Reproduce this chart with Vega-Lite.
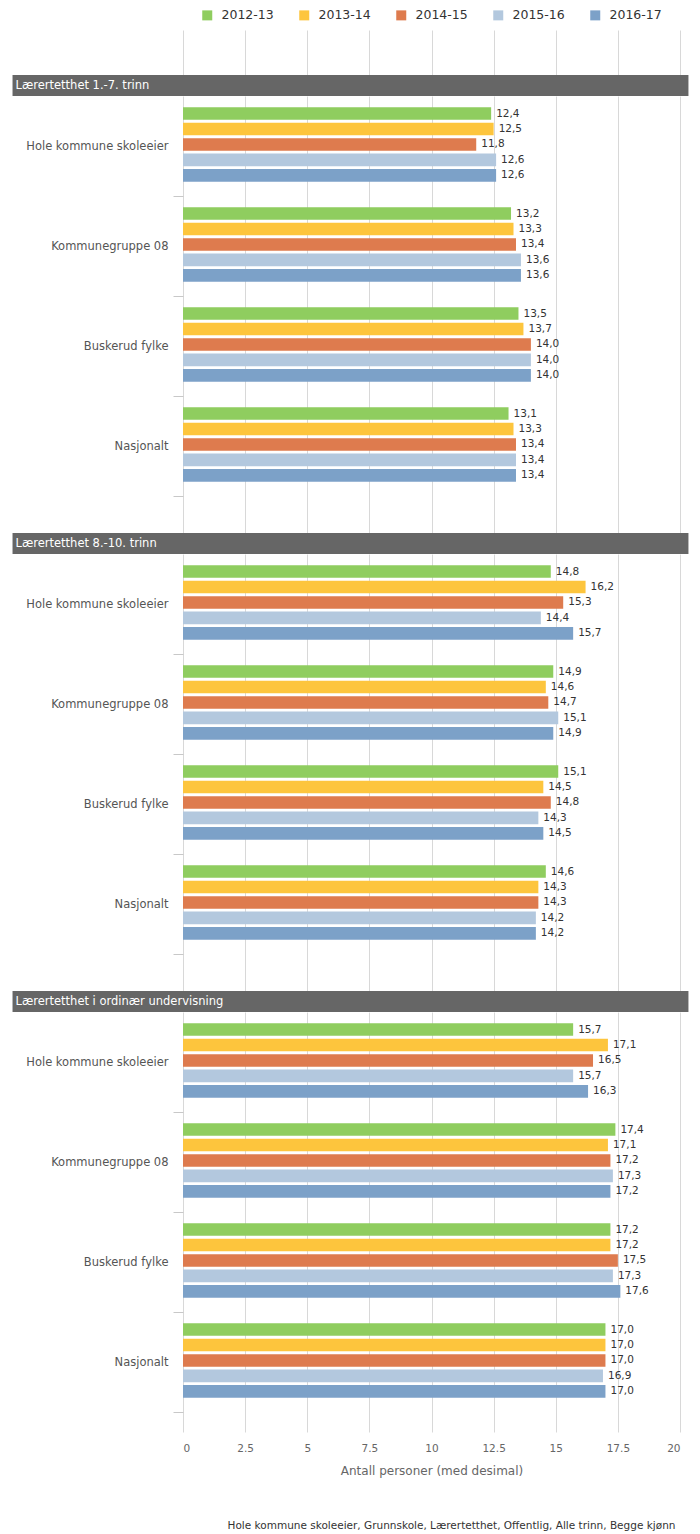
{
  "$schema": "https://vega.github.io/schema/vega-lite/v6.json",
  "padding": {"left": 12, "right": 12, "top": 9, "bottom": 2},
  "background": "white",
  "config": {
    "locale": {"number": {"decimal": ",", "thousands": " ", "grouping": [3], "currency": ["", " kr"]}},
    "font": "DejaVu Sans",
    "view": {"stroke": null},
    "legend": {"layout": {"top": {"anchor": "middle"}}}
  },
  "title": {"text": "Hole kommune skoleeier, Grunnskole, Lærertetthet, Offentlig, Alle trinn, Begge kjønn", "orient": "bottom", "anchor": "end", "fontSize": 10.5, "fontWeight": "normal", "color": "#333", "offset": 44, "dx": -13},
  "spacing": 0,
  "datasets": {
    "bars": [
      {"section": "A", "group": "Hole kommune skoleeier", "year": "2012-13", "v": 12.4},
      {"section": "A", "group": "Hole kommune skoleeier", "year": "2013-14", "v": 12.5},
      {"section": "A", "group": "Hole kommune skoleeier", "year": "2014-15", "v": 11.8},
      {"section": "A", "group": "Hole kommune skoleeier", "year": "2015-16", "v": 12.6},
      {"section": "A", "group": "Hole kommune skoleeier", "year": "2016-17", "v": 12.6},
      {"section": "A", "group": "Kommunegruppe 08", "year": "2012-13", "v": 13.2},
      {"section": "A", "group": "Kommunegruppe 08", "year": "2013-14", "v": 13.3},
      {"section": "A", "group": "Kommunegruppe 08", "year": "2014-15", "v": 13.4},
      {"section": "A", "group": "Kommunegruppe 08", "year": "2015-16", "v": 13.6},
      {"section": "A", "group": "Kommunegruppe 08", "year": "2016-17", "v": 13.6},
      {"section": "A", "group": "Buskerud fylke", "year": "2012-13", "v": 13.5},
      {"section": "A", "group": "Buskerud fylke", "year": "2013-14", "v": 13.7},
      {"section": "A", "group": "Buskerud fylke", "year": "2014-15", "v": 14.0},
      {"section": "A", "group": "Buskerud fylke", "year": "2015-16", "v": 14.0},
      {"section": "A", "group": "Buskerud fylke", "year": "2016-17", "v": 14.0},
      {"section": "A", "group": "Nasjonalt", "year": "2012-13", "v": 13.1},
      {"section": "A", "group": "Nasjonalt", "year": "2013-14", "v": 13.3},
      {"section": "A", "group": "Nasjonalt", "year": "2014-15", "v": 13.4},
      {"section": "A", "group": "Nasjonalt", "year": "2015-16", "v": 13.4},
      {"section": "A", "group": "Nasjonalt", "year": "2016-17", "v": 13.4},
      {"section": "B", "group": "Hole kommune skoleeier", "year": "2012-13", "v": 14.8},
      {"section": "B", "group": "Hole kommune skoleeier", "year": "2013-14", "v": 16.2},
      {"section": "B", "group": "Hole kommune skoleeier", "year": "2014-15", "v": 15.3},
      {"section": "B", "group": "Hole kommune skoleeier", "year": "2015-16", "v": 14.4},
      {"section": "B", "group": "Hole kommune skoleeier", "year": "2016-17", "v": 15.7},
      {"section": "B", "group": "Kommunegruppe 08", "year": "2012-13", "v": 14.9},
      {"section": "B", "group": "Kommunegruppe 08", "year": "2013-14", "v": 14.6},
      {"section": "B", "group": "Kommunegruppe 08", "year": "2014-15", "v": 14.7},
      {"section": "B", "group": "Kommunegruppe 08", "year": "2015-16", "v": 15.1},
      {"section": "B", "group": "Kommunegruppe 08", "year": "2016-17", "v": 14.9},
      {"section": "B", "group": "Buskerud fylke", "year": "2012-13", "v": 15.1},
      {"section": "B", "group": "Buskerud fylke", "year": "2013-14", "v": 14.5},
      {"section": "B", "group": "Buskerud fylke", "year": "2014-15", "v": 14.8},
      {"section": "B", "group": "Buskerud fylke", "year": "2015-16", "v": 14.3},
      {"section": "B", "group": "Buskerud fylke", "year": "2016-17", "v": 14.5},
      {"section": "B", "group": "Nasjonalt", "year": "2012-13", "v": 14.6},
      {"section": "B", "group": "Nasjonalt", "year": "2013-14", "v": 14.3},
      {"section": "B", "group": "Nasjonalt", "year": "2014-15", "v": 14.3},
      {"section": "B", "group": "Nasjonalt", "year": "2015-16", "v": 14.2},
      {"section": "B", "group": "Nasjonalt", "year": "2016-17", "v": 14.2},
      {"section": "C", "group": "Hole kommune skoleeier", "year": "2012-13", "v": 15.7},
      {"section": "C", "group": "Hole kommune skoleeier", "year": "2013-14", "v": 17.1},
      {"section": "C", "group": "Hole kommune skoleeier", "year": "2014-15", "v": 16.5},
      {"section": "C", "group": "Hole kommune skoleeier", "year": "2015-16", "v": 15.7},
      {"section": "C", "group": "Hole kommune skoleeier", "year": "2016-17", "v": 16.3},
      {"section": "C", "group": "Kommunegruppe 08", "year": "2012-13", "v": 17.4},
      {"section": "C", "group": "Kommunegruppe 08", "year": "2013-14", "v": 17.1},
      {"section": "C", "group": "Kommunegruppe 08", "year": "2014-15", "v": 17.2},
      {"section": "C", "group": "Kommunegruppe 08", "year": "2015-16", "v": 17.3},
      {"section": "C", "group": "Kommunegruppe 08", "year": "2016-17", "v": 17.2},
      {"section": "C", "group": "Buskerud fylke", "year": "2012-13", "v": 17.2},
      {"section": "C", "group": "Buskerud fylke", "year": "2013-14", "v": 17.2},
      {"section": "C", "group": "Buskerud fylke", "year": "2014-15", "v": 17.5},
      {"section": "C", "group": "Buskerud fylke", "year": "2015-16", "v": 17.3},
      {"section": "C", "group": "Buskerud fylke", "year": "2016-17", "v": 17.6},
      {"section": "C", "group": "Nasjonalt", "year": "2012-13", "v": 17.0},
      {"section": "C", "group": "Nasjonalt", "year": "2013-14", "v": 17.0},
      {"section": "C", "group": "Nasjonalt", "year": "2014-15", "v": 17.0},
      {"section": "C", "group": "Nasjonalt", "year": "2015-16", "v": 16.9},
      {"section": "C", "group": "Nasjonalt", "year": "2016-17", "v": 17.0}
    ]
  },
  "vconcat": [
    {
      "width": 497, "height": 45,
      "data": {"values": []},
      "mark": "point",
      "encoding": {
        "x": {"field": "v", "type": "quantitative", "scale": {"domain": [0, 20], "nice": false},
              "axis": {"values": [0, 2.5, 5, 7.5, 10, 12.5, 15, 17.5, 20], "grid": true, "gridColor": "#d8d8d8", "labels": false, "ticks": false, "domain": false, "title": null}}
      }
    },
    {
      "width": 497, "height": 21,
      "data": {"values": [{"header": "Lærertetthet 1.-7. trinn"}]},
      "layer": [
        {"mark": {"type": "rect", "color": "#666666"},
         "encoding": {"x": {"datum": -6.86, "type": "quantitative", "scale": {"domain": [0, 20], "nice": false}, "axis": null}, "x2": {"datum": 20.34}}},
        {"mark": {"type": "text", "align": "left", "baseline": "middle", "color": "white", "fontSize": 11.5},
         "encoding": {"x": {"datum": -6.74, "type": "quantitative"}, "text": {"field": "header"}}}
      ]
    },
    {
      "width": 497, "height": 437,
      "data": {"name": "bars"},
      "transform": [{"filter": "datum.section == 'A'"}],
      "encoding": {
        "y": {"field": "group", "type": "nominal", "sort": null,
              "scale": {"domain": ["Hole kommune skoleeier", "Kommunegruppe 08", "Buskerud fylke", "Nasjonalt"], "paddingInner": 0, "paddingOuter": 0.185, "align": 0},
              "axis": {"title": null, "domain": false, "ticks": true, "tickSize": 10, "tickColor": "#c8c8c8", "tickOffset": 50, "labelOffset": -50, "labelPadding": 5, "labelFontSize": 11.5, "labelColor": "#555", "labelLimit": 300}},
        "yOffset": {"field": "year", "type": "nominal", "scale": {"paddingInner": 0.18, "paddingOuter": 0.82, "align": 0.44}},
        "x": {"field": "v", "type": "quantitative", "scale": {"domain": [0, 20], "nice": false},
              "axis": {"values": [0, 2.5, 5, 7.5, 10, 12.5, 15, 17.5, 20], "grid": true, "gridColor": "#d8d8d8", "labels": false, "ticks": false, "domain": false, "title": null}}
      },
      "layer": [
        {"mark": "bar",
         "encoding": {"color": {"field": "year", "type": "nominal",
           "scale": {"domain": ["2012-13", "2013-14", "2014-15", "2015-16", "2016-17"], "range": ["#8fcd5f", "#fdc53d", "#de7b4e", "#b3c8de", "#7ca1c8"]},
           "legend": {"title": null, "orient": "top", "direction": "horizontal", "symbolType": "square", "symbolSize": 100, "symbolStrokeWidth": 0, "labelFontSize": 12.5, "labelColor": "#333", "columnPadding": 24, "labelOffset": 8, "offset": 8}}}},
        {"mark": {"type": "text", "align": "left", "baseline": "middle", "dx": 5, "fontSize": 10.5, "color": "#333"},
         "encoding": {"text": {"field": "v", "type": "quantitative", "format": ".1f"}}}
      ]
    },
    {
      "width": 497, "height": 21,
      "data": {"values": [{"header": "Lærertetthet 8.-10. trinn"}]},
      "layer": [
        {"mark": {"type": "rect", "color": "#666666"},
         "encoding": {"x": {"datum": -6.86, "type": "quantitative", "scale": {"domain": [0, 20], "nice": false}, "axis": null}, "x2": {"datum": 20.34}}},
        {"mark": {"type": "text", "align": "left", "baseline": "middle", "color": "white", "fontSize": 11.5},
         "encoding": {"x": {"datum": -6.74, "type": "quantitative"}, "text": {"field": "header"}}}
      ]
    },
    {
      "width": 497, "height": 437,
      "data": {"name": "bars"},
      "transform": [{"filter": "datum.section == 'B'"}],
      "encoding": {
        "y": {"field": "group", "type": "nominal", "sort": null,
              "scale": {"domain": ["Hole kommune skoleeier", "Kommunegruppe 08", "Buskerud fylke", "Nasjonalt"], "paddingInner": 0, "paddingOuter": 0.185, "align": 0},
              "axis": {"title": null, "domain": false, "ticks": true, "tickSize": 10, "tickColor": "#c8c8c8", "tickOffset": 50, "labelOffset": -50, "labelPadding": 5, "labelFontSize": 11.5, "labelColor": "#555", "labelLimit": 300}},
        "yOffset": {"field": "year", "type": "nominal", "scale": {"paddingInner": 0.18, "paddingOuter": 0.82, "align": 0.44}},
        "x": {"field": "v", "type": "quantitative", "scale": {"domain": [0, 20], "nice": false},
              "axis": {"values": [0, 2.5, 5, 7.5, 10, 12.5, 15, 17.5, 20], "grid": true, "gridColor": "#d8d8d8", "labels": false, "ticks": false, "domain": false, "title": null}}
      },
      "layer": [
        {"mark": "bar",
         "encoding": {"color": {"field": "year", "type": "nominal",
           "scale": {"domain": ["2012-13", "2013-14", "2014-15", "2015-16", "2016-17"], "range": ["#8fcd5f", "#fdc53d", "#de7b4e", "#b3c8de", "#7ca1c8"]},
           "legend": {"title": null, "orient": "top", "direction": "horizontal", "symbolType": "square", "symbolSize": 100, "symbolStrokeWidth": 0, "labelFontSize": 12.5, "labelColor": "#333", "columnPadding": 24, "labelOffset": 8, "offset": 8}}}},
        {"mark": {"type": "text", "align": "left", "baseline": "middle", "dx": 5, "fontSize": 10.5, "color": "#333"},
         "encoding": {"text": {"field": "v", "type": "quantitative", "format": ".1f"}}}
      ]
    },
    {
      "width": 497, "height": 21,
      "data": {"values": [{"header": "Lærertetthet i ordinær undervisning"}]},
      "layer": [
        {"mark": {"type": "rect", "color": "#666666"},
         "encoding": {"x": {"datum": -6.86, "type": "quantitative", "scale": {"domain": [0, 20], "nice": false}, "axis": null}, "x2": {"datum": 20.34}}},
        {"mark": {"type": "text", "align": "left", "baseline": "middle", "color": "white", "fontSize": 11.5},
         "encoding": {"x": {"datum": -6.74, "type": "quantitative"}, "text": {"field": "header"}}}
      ]
    },
    {
      "width": 497, "height": 420,
      "data": {"name": "bars"},
      "transform": [{"filter": "datum.section == 'C'"}],
      "encoding": {
        "y": {"field": "group", "type": "nominal", "sort": null,
              "scale": {"domain": ["Hole kommune skoleeier", "Kommunegruppe 08", "Buskerud fylke", "Nasjonalt"], "paddingInner": 0, "paddingOuter": 0.1, "align": 0},
              "axis": {"title": null, "domain": false, "ticks": true, "tickSize": 10, "tickColor": "#c8c8c8", "tickOffset": 50, "labelOffset": -50, "labelPadding": 5, "labelFontSize": 11.5, "labelColor": "#555", "labelLimit": 300}},
        "yOffset": {"field": "year", "type": "nominal", "scale": {"paddingInner": 0.18, "paddingOuter": 0.82, "align": 0.44}},
        "x": {"field": "v", "type": "quantitative", "scale": {"domain": [0, 20], "nice": false},
              "axis": {"values": [0, 2.5, 5, 7.5, 10, 12.5, 15, 17.5, 20], "labelExpr": "'' + datum.value", "grid": true, "gridColor": "#d8d8d8", "labels": true, "ticks": false, "domain": false, "labelFontSize": 10.5, "labelColor": "#666", "labelPadding": 11, "title": "Antall personer (med desimal)", "titleFontSize": 12, "titleFontWeight": "normal", "titleColor": "#666", "titlePadding": 12}}
      },
      "layer": [
        {"mark": "bar",
         "encoding": {"color": {"field": "year", "type": "nominal",
           "scale": {"domain": ["2012-13", "2013-14", "2014-15", "2015-16", "2016-17"], "range": ["#8fcd5f", "#fdc53d", "#de7b4e", "#b3c8de", "#7ca1c8"]},
           "legend": {"title": null, "orient": "top", "direction": "horizontal", "symbolType": "square", "symbolSize": 100, "symbolStrokeWidth": 0, "labelFontSize": 12.5, "labelColor": "#333", "columnPadding": 24, "labelOffset": 8, "offset": 8}}}},
        {"mark": {"type": "text", "align": "left", "baseline": "middle", "dx": 5, "fontSize": 10.5, "color": "#333"},
         "encoding": {"text": {"field": "v", "type": "quantitative", "format": ".1f"}}}
      ]
    }
  ]
}
